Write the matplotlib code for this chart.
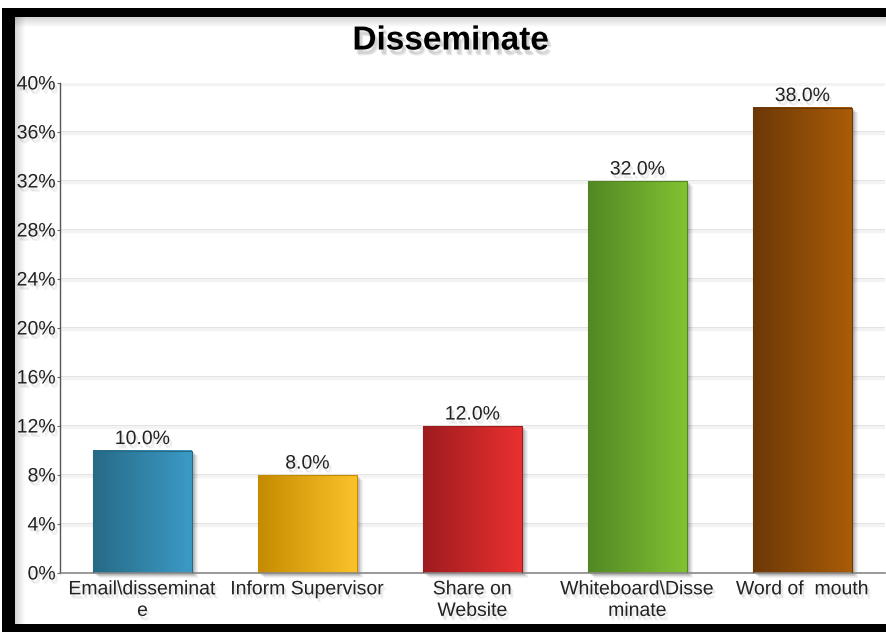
import numpy as np
import matplotlib
matplotlib.use("Agg")
import matplotlib.pyplot as plt
import matplotlib.patheffects as pe
from matplotlib.colors import LinearSegmentedColormap
from matplotlib.patches import Rectangle

categories = ["Email\\disseminat\ne", "Inform Supervisor", "Share on\nWebsite",
              "Whiteboard\\Disse\nminate", "Word of  mouth"]
values = [10.0, 8.0, 12.0, 32.0, 38.0]
y_ticks = [0, 4, 8, 12, 16, 20, 24, 28, 32, 36, 40]
bar_colors = [("#276a86", "#3b9bc6"), ("#c58b00", "#fcc22a"), ("#9e1c1f", "#ea3030"),
              ("#528824", "#82c232"), ("#6c3806", "#aa5c08")]
title = "Disseminate"

plt.rcParams["font.family"] = ["Liberation Sans", "DejaVu Sans"]

W, H = 886, 632
fig = plt.figure(figsize=(W / 100, H / 100), dpi=100)
fig.patch.set_facecolor("white")

# frame: black bands on top, left and bottom with a soft inner shade
def px_rect(x0, y0, x1, y1, **kw):
    fig.patches.append(Rectangle((x0 / W, 1 - y1 / H), (x1 - x0) / W, (y1 - y0) / H,
                                 transform=fig.transFigure, figure=fig, **kw))

for i in range(10):
    a = 0.16 * (1 - i / 10)
    px_rect(15, 17 + i, W, 18 + i, facecolor="black", alpha=a, lw=0)
    px_rect(15 + i, 17, 16 + i, 624, facecolor="black", alpha=a, lw=0)
px_rect(2, 8, W, 17, facecolor="black", lw=0)
px_rect(2, 8, 15, H, facecolor="black", lw=0)
px_rect(2, 624, W, H, facecolor="black", lw=0)

ax = fig.add_axes([60 / W, 1 - 573 / H, 825 / W, 490 / H])
ax.set_facecolor("none")


def soft_shadow(dx, dy, alpha, steps=3):
    effects = []
    for k in range(steps):
        effects.append(pe.SimplePatchShadow(offset=(dx + 0.6 * k, dy - 0.6 * k),
                                            shadow_rgbFace="#777777", alpha=alpha))
    effects.append(pe.Normal())
    return effects


shadow_txt = soft_shadow(1.0, -2.0, 0.08)

# gridlines with a faint shadow beneath
for t in y_ticks[1:]:
    ax.axhline(t, color="#d9d9d9", lw=1.2, zorder=0)
    ax.axhline(t - 0.12, color="#f3f3f3", lw=2.5, zorder=0)

x = np.arange(len(categories))
bars = ax.bar(x, values, width=0.6, color="none", edgecolor="none", zorder=2)
grad = np.linspace(0, 1, 256).reshape(1, -1)
for b, (c0, c1), v in zip(bars, bar_colors, values):
    x0, w, h = b.get_x(), b.get_width(), b.get_height()
    # blurred shadow to the lower right
    for k in range(1, 7):
        sh = Rectangle((x0, 0), w, h, facecolor="black", alpha=0.05, lw=0, zorder=1,
                       transform=ax.transData + matplotlib.transforms.ScaledTranslation(
                           (1 + k * 0.8) / 100, -(1 + k * 0.6) / 100, fig.dpi_scale_trans))
        sh.set_clip_on(False)
        ax.add_patch(sh)
    cmap = LinearSegmentedColormap.from_list("g", [c0, c1])
    ax.imshow(grad, cmap=cmap, extent=(x0, x0 + w, 0, h), aspect="auto", zorder=2,
              interpolation="bilinear")
    ax.add_patch(Rectangle((x0, 0), w, h, facecolor="none", edgecolor=c0, lw=0.8, zorder=3))
    ax.text(b.get_x() + w / 2, h + 0.2, f"{v:.1f}%", ha="center", va="bottom",
            fontsize=14, color="#222222", zorder=4, path_effects=shadow_txt)

ax.set_xlim(-0.5, len(categories) - 0.5)
ax.set_ylim(0, 40)
ax.set_yticks(y_ticks)
ax.set_yticklabels([f"{t}%" for t in y_ticks], fontsize=14, color="#222222")
ax.set_xticks(x)
ax.set_xticklabels(categories, fontsize=14, color="#222222", linespacing=1.35)
for lab in ax.get_xticklabels() + ax.get_yticklabels():
    lab.set_path_effects(shadow_txt)
ax.tick_params(axis="y", length=2, pad=1, color="#666666")
ax.tick_params(axis="x", length=0, pad=6)
for s in ["top", "right"]:
    ax.spines[s].set_visible(False)
ax.spines["left"].set_color("#555555")
ax.spines["left"].set_linewidth(1)
ax.spines["bottom"].set_color("#888888")
ax.spines["bottom"].set_linewidth(1.2)

fig.text(451 / W, 1 - 41 / H, title, ha="center", va="center", fontsize=24,
         fontweight="bold", color="black", path_effects=soft_shadow(1.5, -3.0, 0.12))

fig.savefig("out.png", dpi=100)
